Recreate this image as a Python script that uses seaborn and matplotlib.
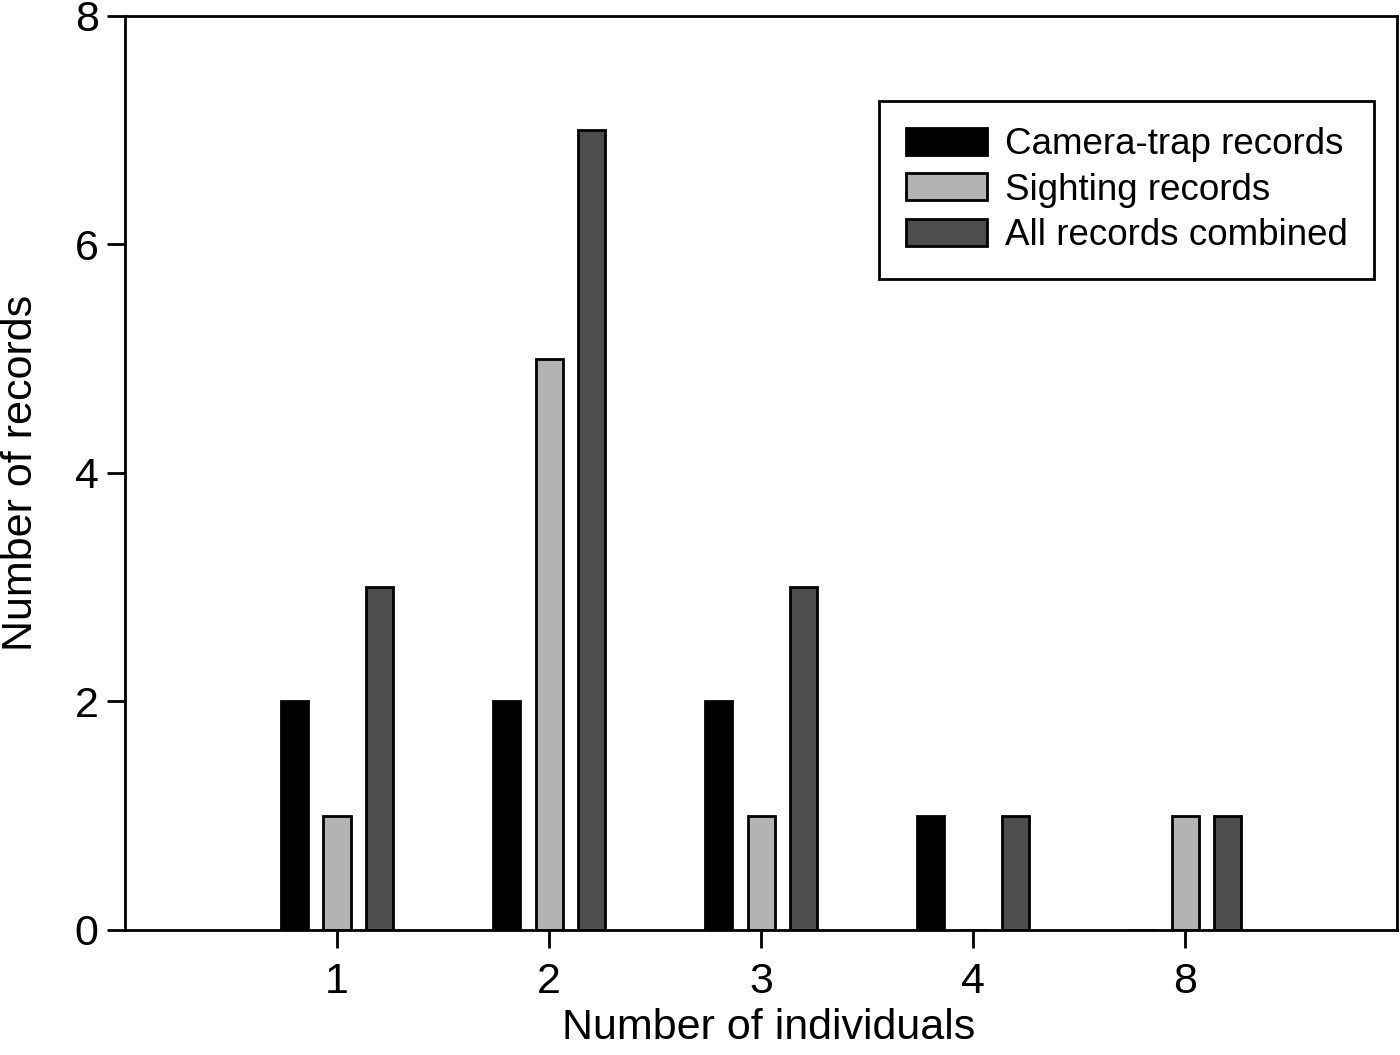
import numpy as np
import pandas as pd
import matplotlib
matplotlib.use('Agg')
import matplotlib.pyplot as plt
import seaborn as sns

# values
individuals = ['1', '2', '3', '4', '8']
camera_trap = [2, 2, 2, 1, 0]
sighting = [1, 5, 1, 0, 1]
combined = [3, 7, 3, 1, 1]
series_names = ['Camera-trap records', 'Sighting records', 'All records combined']
series_colors = ['#000000', '#b3b3b3', '#4d4d4d']

# long-form table for seaborn
df = pd.DataFrame({
    'individuals': individuals * 3,
    'records': camera_trap + sighting + combined,
    'series': np.repeat(series_names, len(individuals)),
})

sns.set_style('ticks')
plt.rcParams['font.family'] = ['Liberation Sans', 'DejaVu Sans']
plt.rcParams['text.color'] = 'black'
plt.rcParams['axes.labelcolor'] = 'black'
plt.rcParams['xtick.color'] = 'black'
plt.rcParams['ytick.color'] = 'black'

fig = plt.figure(figsize=(14, 10.55), dpi=100)
ax = fig.add_axes([0.0893, 0.1185, 0.9087, 0.8665])

sns.barplot(data=df, x='individuals', y='records', hue='series',
            order=individuals, hue_order=series_names,
            palette=series_colors, width=0.6, gap=0.36,
            edgecolor='black', linewidth=2, saturation=1, ax=ax)

ax.set_xlim(-1, 5)
ax.set_ylim(0, 8)
ax.set_yticks([0, 2, 4, 6, 8])
ax.set_xlabel('Number of individuals', fontsize=31, labelpad=9)
ax.xaxis.set_label_coords(0.506, -0.085)
ax.set_ylabel('Number of records', fontsize=31, labelpad=24)
ax.tick_params(axis='both', labelsize=31, width=2, length=13, direction='out')
ax.tick_params(axis='x', pad=10)
ax.tick_params(axis='y', pad=6)

for side in ['left', 'right', 'top', 'bottom']:
    ax.spines[side].set_visible(True)
    ax.spines[side].set_linewidth(2)
    ax.spines[side].set_color('black')

leg = ax.legend(loc='upper right', bbox_to_anchor=(0.982, 0.907), fontsize=26.5,
                frameon=True, fancybox=False, edgecolor='black',
                handlelength=2.2, handleheight=0.75, labelspacing=0.28,
                borderpad=0.72, handletextpad=0.5, borderaxespad=0)
leg.get_frame().set_linewidth(2)
leg.get_frame().set_alpha(1)

plt.savefig('out.png', dpi=100)
